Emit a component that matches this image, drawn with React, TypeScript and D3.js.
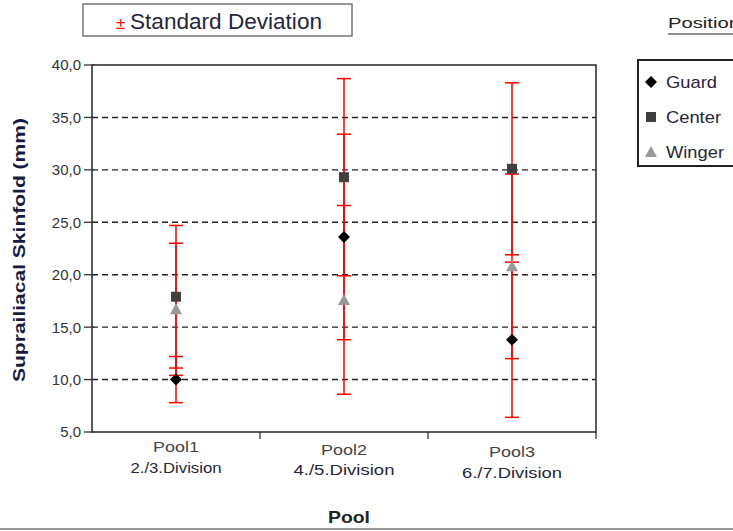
import { useMemo } from "react";
import * as d3 from "d3";

const WIDTH = 733;
const HEIGHT = 531;

const pools = ["Pool1", "Pool2", "Pool3"];
const divisions = ["2./3.Division", "4./5.Division", "6./7.Division"];
const positions = ["Guard", "Center", "Winger"];

// means and standard deviations per position, one value per pool
const guardMean = [10.0, 23.6, 13.8];
const guardSd = [2.2, 9.8, 7.4];
const centerMean = [17.9, 29.3, 30.1];
const centerSd = [6.8, 9.4, 8.2];
const wingerMean = [16.7, 17.6, 20.8];
const wingerSd = [6.3, 9.0, 8.8];

const yTicks = [5, 10, 15, 20, 25, 30, 35, 40];

const MARGIN = { top: 65, right: 137, bottom: 99, left: 92 };
const COLORS = { Guard: "#000000", Center: "#404040", Winger: "#999999" };
const FONT = "'Liberation Sans', Arial, sans-serif";
const TEXT = "#26263a";

function Marker({ kind, x, y }: { kind: string; x: number; y: number }) {
  if (kind === "Guard") {
    return <path d={`M${x},${y - 6}L${x + 6},${y}L${x},${y + 6}L${x - 6},${y}Z`} fill={COLORS.Guard} />;
  }
  if (kind === "Center") {
    return <rect x={x - 5} y={y - 5} width={10} height={10} fill={COLORS.Center} />;
  }
  return <path d={`M${x},${y - 6}L${x + 6},${y + 5}L${x - 6},${y + 5}Z`} fill={COLORS.Winger} />;
}

export default function App() {
  const boundsWidth = WIDTH - MARGIN.left - MARGIN.right;
  const boundsHeight = HEIGHT - MARGIN.top - MARGIN.bottom;

  const xScale = useMemo(
    () => d3.scaleBand().domain(pools).range([0, boundsWidth]),
    [boundsWidth]
  );
  const yScale = useMemo(
    () => d3.scaleLinear().domain([5, 40]).range([boundsHeight, 0]),
    [boundsHeight]
  );

  const series = [
    { name: "Center", mean: centerMean, sd: centerSd },
    { name: "Guard", mean: guardMean, sd: guardSd },
    { name: "Winger", mean: wingerMean, sd: wingerSd },
  ];

  const bw = xScale.bandwidth();
  const cx = (p: string) => (xScale(p) ?? 0) + bw / 2;

  return (
    <svg width={WIDTH} height={HEIGHT} style={{ position: "absolute", left: 0, top: 0, background: "#fff" }} fontFamily={FONT}>
      {/* standard deviation box */}
      <rect x={83} y={4} width={269} height={32} fill="#fff" stroke="#777" strokeWidth={1.5} />
      <text x={116} y={29} fontSize={17} fill="#ff0000">±</text>
      <text x={130} y={29} fontSize={22} fill={TEXT} textLength={192} lengthAdjust="spacingAndGlyphs">
        Standard Deviation
      </text>

      {/* legend title */}
      <text x={668} y={28} fontSize={14} fill="#222" textLength={72} lengthAdjust="spacingAndGlyphs">Position</text>
      <line x1={668} x2={733} y1={34} y2={34} stroke="#222" strokeWidth={1.2} />

      {/* legend */}
      <rect x={638} y={60} width={110} height={106} fill="#fff" stroke="#222" strokeWidth={2} />
      {positions.map((p, i) => (
        <g key={p}>
          <Marker kind={p} x={651} y={82 + i * 35} />
          <text x={666} y={88 + i * 35} fontSize={17} fill={TEXT} textLength={[51, 55, 58][i]} lengthAdjust="spacingAndGlyphs">{p}</text>
        </g>
      ))}

      <g transform={`translate(${MARGIN.left},${MARGIN.top})`}>
        {/* grid */}
        {yTicks.filter((t) => t > 5 && t < 40).map((t) => (
          <line key={t} x1={0} x2={boundsWidth} y1={yScale(t)} y2={yScale(t)} stroke="#222" strokeWidth={1.4} strokeDasharray="6,4" />
        ))}
        {/* frame */}
        <rect x={0} y={0} width={boundsWidth} height={boundsHeight} fill="none" stroke="#333" strokeWidth={1.6} />
        {/* y ticks and labels */}
        {yTicks.map((t) => (
          <g key={t} transform={`translate(0,${yScale(t)})`}>
            <line x1={-8} x2={2} stroke="#333" strokeWidth={1.3} />
            <text x={-11} dy="0.36em" textAnchor="end" fontSize={15} fill="#333">
              {d3.format(".1f")(t).replace(".", ",")}
            </text>
          </g>
        ))}
        {/* x ticks and labels */}
        {pools.map((p, i) => (
          <g key={p}>
            <line x1={(xScale(p) ?? 0) + bw} x2={(xScale(p) ?? 0) + bw} y1={boundsHeight} y2={boundsHeight + 7} stroke="#333" strokeWidth={1.3} />
            <text x={cx(p)} y={boundsHeight + 20 + i * 2.5} textAnchor="middle" fontSize={15} fill="#444" textLength={46} lengthAdjust="spacingAndGlyphs">{p}</text>
            <text x={cx(p)} y={boundsHeight + 40.5 + i * 2.5} textAnchor="middle" fontSize={15} fill={TEXT} textLength={[91, 101, 100][i]} lengthAdjust="spacingAndGlyphs">{divisions[i]}</text>
          </g>
        ))}
        {/* error bars */}
        {series.map((s) =>
          pools.map((p, i) => {
            const x = cx(p);
            const hi = yScale(s.mean[i] + s.sd[i]);
            const lo = yScale(s.mean[i] - s.sd[i]);
            return (
              <g key={s.name + p} stroke="#ff0000" strokeWidth={1.5}>
                <line x1={x} x2={x} y1={hi} y2={lo} />
                <line x1={x - 7} x2={x + 7} y1={hi} y2={hi} />
                <line x1={x - 7} x2={x + 7} y1={lo} y2={lo} />
              </g>
            );
          })
        )}
        {/* points */}
        {series.map((s) =>
          pools.map((p, i) => <Marker key={s.name + p} kind={s.name} x={cx(p)} y={yScale(s.mean[i])} />)
        )}
      </g>

      {/* axis titles */}
      <text transform={`translate(25,250) rotate(-90)`} textAnchor="middle" fontSize={17} fontWeight="bold" fill="#1a1a40" textLength={264} lengthAdjust="spacingAndGlyphs">
        Suprailiacal Skinfold (mm)
      </text>
      <text x={349} y={523} textAnchor="middle" fontSize={17} fontWeight="bold" fill="#222" textLength={42} lengthAdjust="spacingAndGlyphs">Pool</text>
      <line x1={0} x2={WIDTH} y1={529} y2={529} stroke="#777" strokeWidth={1.5} />
    </svg>
  );
}
